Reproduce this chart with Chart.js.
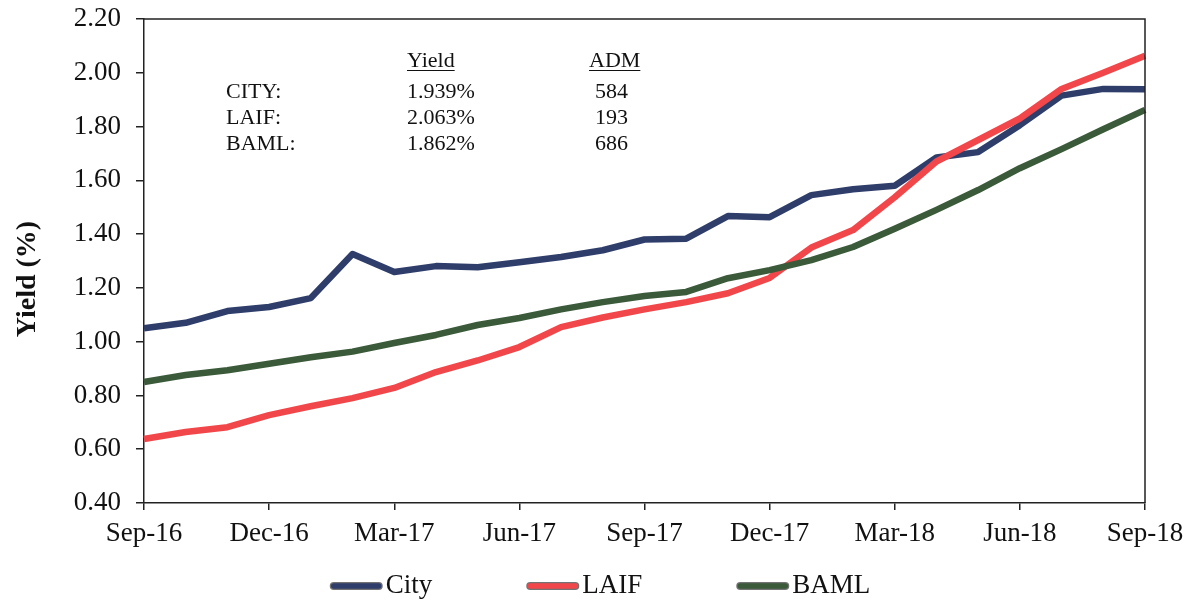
<!DOCTYPE html>
<html>
<head>
<meta charset="utf-8">
<script src="https://cdn.jsdelivr.net/npm/chart.js@4.4.1/dist/chart.umd.min.js"></script>
<style>
  html, body { margin: 0; padding: 0; background: #ffffff; }
  #wrap { width: 1195px; height: 602px; position: relative; }
</style>
</head>
<body>
<div id="wrap"><canvas id="c" width="1195" height="602"></canvas></div>
<script>
const months = ["Sep-16","Oct-16","Nov-16","Dec-16","Jan-17","Feb-17","Mar-17","Apr-17","May-17","Jun-17","Jul-17","Aug-17",
                "Sep-17","Oct-17","Nov-17","Dec-17","Jan-18","Feb-18","Mar-18","Apr-18","May-18","Jun-18","Jul-18","Aug-18","Sep-18"];
const cityYield = [1.050,1.070,1.114,1.129,1.162,1.326,1.259,1.281,1.277,1.295,1.315,1.340,
                   1.380,1.383,1.467,1.463,1.545,1.567,1.580,1.685,1.705,1.805,1.915,1.940,1.939];
const laifYield = [0.638,0.664,0.682,0.727,0.760,0.790,0.828,0.887,0.930,0.980,1.054,1.090,
                   1.120,1.147,1.180,1.237,1.350,1.415,1.537,1.670,1.750,1.830,1.940,2.000,2.063];
const bamlYield = [0.850,0.876,0.894,0.918,0.942,0.963,0.995,1.025,1.062,1.088,1.120,1.147,
                   1.170,1.185,1.236,1.266,1.303,1.352,1.420,1.490,1.564,1.645,1.716,1.790,1.862];
const yTicks = [0.40,0.60,0.80,1.00,1.20,1.40,1.60,1.80,2.00,2.20];
const summaryNames = ["CITY:","LAIF:","BAML:"];
const summaryYield = ["1.939%","2.063%","1.862%"];
const summaryADM = ["584","193","686"];
const headerYield = "Yield";
const headerADM = "ADM";
const yTitle = "Yield (%)";
const seriesNames = ["City","LAIF","BAML"];

const SERIF = '"Liberation Serif", "Times New Roman", "DejaVu Serif", serif';
const colors = { City: '#2e3d6a', LAIF: '#f2474a', BAML: '#3b5a3a' };

const decor = {
  id: 'decor',
  afterDraw(chart) {
    const ctx = chart.ctx;
    const a = chart.chartArea;
    ctx.save();
    ctx.strokeStyle = '#222';
    ctx.lineWidth = 1.5;
    ctx.beginPath();
    ctx.moveTo(a.left, a.top);
    ctx.lineTo(a.right, a.top);
    ctx.lineTo(a.right, a.bottom);
    ctx.stroke();

    ctx.fillStyle = '#111';
    ctx.font = '22px ' + SERIF;
    ctx.textBaseline = 'middle';
    ctx.textAlign = 'left';
    const rowY = [92, 118, 144];
    for (let i = 0; i < summaryNames.length; i++) {
      ctx.fillText(summaryNames[i], 226, rowY[i]);
      ctx.fillText(summaryYield[i], 407, rowY[i]);
      ctx.fillText(summaryADM[i], 595, rowY[i]);
    }
    ctx.fillText(headerYield, 407, 61);
    ctx.fillText(headerADM, 589, 61);
    ctx.lineWidth = 1.2;
    ctx.strokeStyle = '#111';
    const wY = ctx.measureText(headerYield).width;
    const wA = ctx.measureText(headerADM).width;
    ctx.beginPath();
    ctx.moveTo(407, 70.5); ctx.lineTo(407 + wY, 70.5);
    ctx.moveTo(589, 70.5); ctx.lineTo(589 + wA, 70.5);
    ctx.stroke();

    ctx.save();
    ctx.translate(28, 279);
    ctx.rotate(-Math.PI / 2);
    ctx.font = 'bold 28px ' + SERIF;
    ctx.textAlign = 'center';
    ctx.textBaseline = 'middle';
    ctx.fillText(yTitle, 0, 0);
    ctx.restore();

    ctx.font = '27px ' + SERIF;
    ctx.textAlign = 'left';
    ctx.textBaseline = 'middle';
    const sw = 53, gap = 3, spacing = 94;
    const ds = chart.data.datasets;
    let total = 0;
    const widths = ds.map(d => ctx.measureText(d.label).width);
    widths.forEach((w, i) => { total += sw + gap + w + (i < widths.length - 1 ? spacing : 0); });
    let x = 600 - total / 2;
    const ly = 586;
    ds.forEach((d, i) => {
      ctx.lineCap = 'round';
      ctx.strokeStyle = 'rgba(0,0,0,0.55)';
      ctx.lineWidth = 8;
      ctx.beginPath(); ctx.moveTo(x + 4, ly); ctx.lineTo(x + sw - 4, ly); ctx.stroke();
      ctx.strokeStyle = d.borderColor;
      ctx.lineWidth = 5.5;
      ctx.beginPath(); ctx.moveTo(x + 4, ly); ctx.lineTo(x + sw - 4, ly); ctx.stroke();
      ctx.fillStyle = '#111';
      ctx.fillText(d.label, x + sw + gap, ly);
      x += sw + gap + widths[i] + spacing;
    });
    ctx.restore();
  }
};

new Chart(document.getElementById('c'), {
  type: 'line',
  data: {
    labels: months,
    datasets: [
      { label: seriesNames[0], data: cityYield, borderColor: colors.City, order: 2 },
      { label: seriesNames[1], data: laifYield, borderColor: colors.LAIF, order: 1 },
      { label: seriesNames[2], data: bamlYield, borderColor: colors.BAML, order: 0 }
    ].map(d => Object.assign(d, {
      borderWidth: 6.5, pointRadius: 0, pointHoverRadius: 0, tension: 0,
      fill: false, borderJoinStyle: 'round', borderCapStyle: 'butt'
    }))
  },
  options: {
    responsive: false,
    animation: false,
    events: [],
    layout: { padding: { left: 0, top: 19, right: 50, bottom: 52 } },
    plugins: { legend: { display: false }, tooltip: { enabled: false } },
    scales: {
      x: {
        type: 'category',
        offset: false,
        grid: { display: true, drawOnChartArea: false, drawTicks: true, tickLength: 7, color: '#222', lineWidth: 1.5 },
        border: { display: true, color: '#222', width: 1.5 },
        ticks: {
          autoSkip: false, maxRotation: 0, minRotation: 0, padding: 8, color: '#111',
          font: { family: SERIF, size: 27 },
          callback: function(v, i) { return i % 3 === 0 ? months[i] : null; }
        },
        afterFit: s => { s.height = 47; s.paddingLeft = 0; s.paddingRight = 0; }
      },
      y: {
        min: yTicks[0], max: yTicks[yTicks.length - 1],
        grid: { display: true, drawOnChartArea: false, drawTicks: true, tickLength: 8, color: '#222', lineWidth: 1.5 },
        border: { display: true, color: '#222', width: 1.5 },
        afterBuildTicks: s => { s.ticks = yTicks.map(v => ({ value: v })); },
        ticks: {
          padding: 15, color: '#111',
          font: { family: SERIF, size: 27 },
          callback: v => Number(v).toFixed(2)
        },
        afterFit: s => { s.width = 144; s.paddingTop = 0; s.paddingBottom = 0; }
      }
    }
  },
  plugins: [decor]
});
</script>
</body>
</html>
